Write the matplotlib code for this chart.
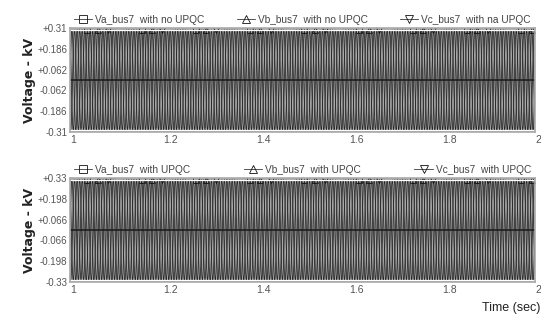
import numpy as np
import matplotlib
matplotlib.use('Agg')
import matplotlib.pyplot as plt

# signal parameters
t_start, t_end = 1.0, 2.0
freq_hz = 60
phases_deg = [0, -120, 120]
amp_top = 0.30
amp_bottom = 0.32
n_samples = 1100

top_labels = ['Va_bus7  with no UPQC', 'Vb_bus7  with no UPQC', 'Vc_bus7  with na UPQC']
bottom_labels = ['Va_bus7  with UPQC', 'Vb_bus7  with UPQC', 'Vc_bus7  with UPQC']
markers = ['s', '^', 'v']
top_ticks = [0.31, 0.186, 0.062, -0.062, -0.186, -0.31]
top_ticklabels = ['+0.31', '+0.186', '+0.062', '-0.062', '-0.186', '-0.31']
bottom_ticks = [0.33, 0.198, 0.066, -0.066, -0.198, -0.33]
bottom_ticklabels = ['+0.33', '+0.198', '+0.066', '-0.066', '-0.198', '-0.33']
x_ticks = [1, 1.2, 1.4, 1.6, 1.8, 2]
x_ticklabels = ['1', '1.2', '1.4', '1.6', '1.8', '2']

t = np.linspace(t_start, t_end, n_samples)
tick_font = {'family': 'Liberation Sans', 'size': 7}

fig = plt.figure(figsize=(5.41, 3.2), dpi=100)
ax1 = fig.add_axes([70/541, 1 - 132/320, 465/541, 104/320])
ax2 = fig.add_axes([70/541, 1 - 282/320, 465/541, 104/320])

def draw(ax, amp, labels, ticks, ticklabels):
    ax.set_facecolor('#a8a8a8')
    for k, (ph, lab, m) in enumerate(zip(phases_deg, labels, markers)):
        y = amp * np.sin(2 * np.pi * freq_hz * t + np.deg2rad(ph))
        peaks = [i for i in range(1, len(y) - 1) if y[i] >= y[i - 1] and y[i] >= y[i + 1]]
        ax.plot(t, y, color='#262626', lw=0.55, marker=m, markevery=peaks[2 + k::7],
                markersize=4.5, markerfacecolor='none', markeredgecolor='#111111',
                markeredgewidth=0.6, label=lab)
    ax.axhline(0, color='#1a1a1a', lw=1.1)
    ax.axhline(ticks[0] * 0.965, color='white', lw=0.9)
    ax.axhline(ticks[-1] * 0.965, color='white', lw=0.9)
    ax.set_xlim(t_start, t_end)
    ax.set_ylim(ticks[-1], ticks[0])
    ax.set_yticks(ticks)
    ax.set_yticklabels(ticklabels, color='#555555', fontdict=tick_font)
    ax.set_xticks(x_ticks)
    ax.set_xticklabels(x_ticklabels, color='#555555', ha='left',
                       fontdict={'family': 'Liberation Sans', 'size': 7.5})
    ax.tick_params(length=0, pad=2)
    for s in ax.spines.values():
        s.set_color('#aaaaaa')
        s.set_linewidth(1.2)
    ax.set_ylabel('Voltage - kV', fontsize=9, fontweight='bold', labelpad=1, color='#222222')
    leg = ax.legend(loc='lower left', bbox_to_anchor=(0.0, 0.99, 1.0, 0.1), mode='expand',
                    ncol=3, frameon=False, handlelength=1.8, handletextpad=0.3,
                    markerscale=1.3, borderaxespad=0,
                    prop={'family': 'Liberation Sans', 'size': 7.3})
    for txt in leg.get_texts():
        txt.set_color('#444444')

draw(ax1, amp_top, top_labels, top_ticks, top_ticklabels)
draw(ax2, amp_bottom, bottom_labels, bottom_ticks, bottom_ticklabels)

fig.text(540/541, 1 - 308/320, 'Time (sec)', ha='right', va='center', fontsize=9,
         color='#222222', family='Liberation Sans')

fig.savefig('out.png', dpi=100)
